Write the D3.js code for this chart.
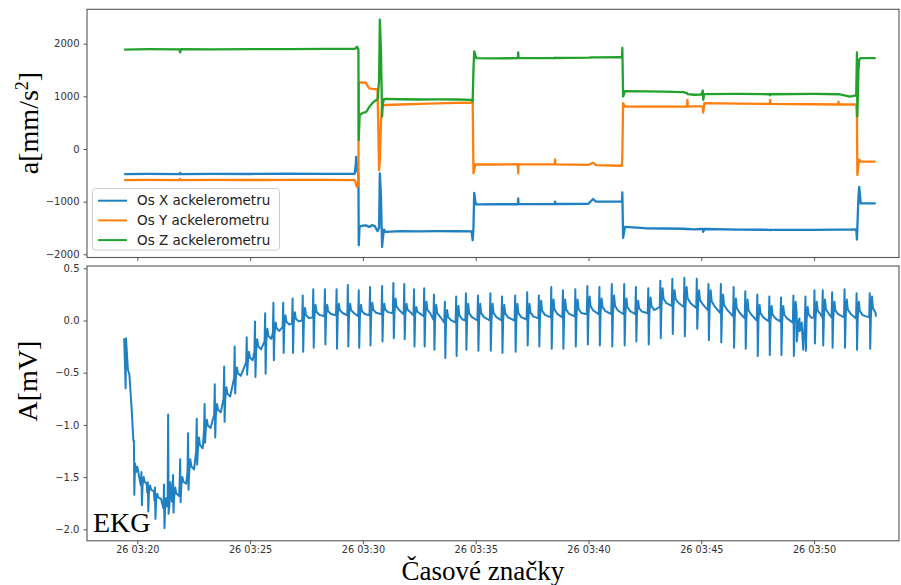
<!DOCTYPE html>
<html><head><meta charset="utf-8">
<script src="https://cdn.jsdelivr.net/npm/d3@7"></script>
<style>
html,body{margin:0;padding:0;background:#fff;}
svg{display:block;}
</style>
</head><body>
<svg id="chart" width="901" height="585"></svg>
<script>
// ---------------- DATA ----------------
// time is given in seconds after 26 03:20:00
const xTickLabelsFormat = "%d %H:%M";
const seriesNames = ["Os X ackelerometru", "Os Y ackelerometru", "Os Z ackelerometru"];
const topTicks = [2000, 1000, 0, -1000, -2000];
const bottomTicks = [0.5, 0.0, -0.5, -1.0, -1.5, -2.0];

const accSec = [-35,30,112,114,116,200,300,400,500,578,581,582,585,588,589,591,592,600,608,612,617,625,632,639,643,645,648,651,653,656,660,700,750,800,850,889,892,894,896,899,901,950,1012,1013,1014,1110,1111,1112,1200,1212,1220,1283,1289,1290,1292,1297,1350,1400,1452,1462,1463,1464,1480,1500,1504,1505,1508,1600,1682,1683,1684,1800,1864,1865,1866,1895,1912,1914,1915,1918,1920,1924,1964];
const accX = [-478,-474,-478,-455,-476,-472,-475,-470,-472,-470,-300,-150,-420,-470,-1829,-1480,-1470,-1455,-1450,-1465,-1480,-1445,-1470,-1560,-1500,-463,-900,-1860,-1700,-1530,-1575,-1560,-1565,-1560,-1562,-1565,-1733,-1500,-832,-1000,-1053,-1050,-1050,-940,-1048,-1048,-1000,-1045,-1040,-950,-1000,-1000,-1000,-825,-1689,-1480,-1505,-1510,-1515,-1520,-1520,-1520,-1525,-1520,-1520,-1575,-1520,-1530,-1535,-1543,-1535,-1535,-1530,-1530,-1530,-1530,-1525,-1720,-1500,-900,-718,-1034,-1034];
const accY = [-592,-588,-590,-570,-590,-587,-589,-586,-588,-592,-640,-690,-718,-650,1251,1263,1263,1263,1258,1200,1152,1140,1137,1137,-400,-200,500,800,819,830,835,845,855,865,875,882,880,-463,-400,-291,-291,-295,-290,-463,-292,-293,-200,-293,-300,-260,-305,-318,-318,-100,870,806,806,806,806,806,933,806,808,808,806,692,870,860,855,933,855,850,845,900,845,845,845,600,-495,-300,-203,-241,-241];
const accZ = [1888,1895,1893,1835,1896,1893,1898,1895,1900,1902,1910,1930,1940,1890,171,600,648,686,700,740,800,870,914,940,1300,2457,1886,615,850,946,950,945,940,942,940,933,900,1500,1853,1790,1727,1720,1725,1835,1725,1728,1735,1728,1735,1740,1740,1742,1742,1918,996,1100,1095,1090,1079,1060,1045,1040,1030,1035,1110,933,1042,1045,1040,1020,1040,1045,1040,1040,1040,996,1020,1835,615,1500,1700,1727,1727];

// EKG: irregular start segment
const ekgStartSec = [-35,-31,-30,-25,-21,-15,-10.5,-9,-8,-6,-3,0,5];
const ekgStartVal = [-0.17,-0.65,-0.17,-0.47,-0.52,-0.85,-1.15,-1.15,-1.67,-1.37,-1.45,-1.40,-1.50];
// EKG beats: time, baseline, R peak, S trough, second peak
const ekgBeatSec = [11,28,47,71,82,95,114,135,158,179,206,231,259,291,313,340,362,388,413,440,468,499,530,560,589,619,651,681,710,736,763,789,818,848,874,906,939,970,1005,1037,1068,1101,1132,1165,1197,1229,1262,1295,1326,1359,1391,1423,1455,1488,1519,1552,1586,1617,1649,1681,1712,1745,1777,1801,1823,1848,1881,1913,1948];
const ekgBase = [-1.58,-1.65,-1.72,-1.80,-1.78,-1.70,-1.58,-1.45,-1.25,-1.05,-0.90,-0.75,-0.55,-0.40,-0.30,-0.20,-0.12,-0.06,-0.03,0.00,0.03,0.04,0.05,0.05,0.04,0.05,0.06,0.07,0.06,0.05,0.04,0.01,-0.02,-0.02,0.00,0.00,0.00,0.00,0.00,0.01,0.02,0.03,0.03,0.04,0.06,0.06,0.06,0.06,0.06,0.07,0.13,0.14,0.13,0.12,0.10,0.07,0.04,0.02,0.00,-0.01,-0.01,-0.02,0.00,0.03,0.03,0.03,0.03,0.02,0.03];
const ekgR = [-1.45,-1.55,-1.60,-1.57,-0.90,-1.48,-1.33,-1.08,-0.94,-0.80,-0.61,-0.44,-0.25,-0.16,-0.01,0.07,0.17,0.17,0.21,0.24,0.30,0.30,0.30,0.34,0.29,0.32,0.33,0.36,0.35,0.30,0.31,0.25,0.18,0.23,0.26,0.24,0.26,0.23,0.24,0.27,0.24,0.32,0.29,0.30,0.33,0.32,0.35,0.35,0.32,0.31,0.38,0.40,0.41,0.40,0.35,0.35,0.32,0.28,0.25,0.23,0.22,0.24,0.23,0.29,0.29,0.27,0.30,0.26,0.26];
const ekgS = [-1.77,-1.83,-1.90,-1.99,-1.85,-1.84,-1.74,-1.62,-1.38,-1.17,-1.12,-0.97,-0.70,-0.52,-0.54,-0.51,-0.38,-0.31,-0.31,-0.30,-0.26,-0.23,-0.27,-0.25,-0.26,-0.24,-0.20,-0.17,-0.18,-0.25,-0.25,-0.28,-0.36,-0.34,-0.28,-0.29,-0.29,-0.31,-0.30,-0.24,-0.25,-0.27,-0.27,-0.25,-0.23,-0.24,-0.25,-0.24,-0.20,-0.23,-0.17,-0.13,-0.15,-0.08,-0.19,-0.21,-0.26,-0.27,-0.34,-0.33,-0.33,-0.34,-0.29,-0.22,-0.24,-0.26,-0.26,-0.28,-0.27];
const ekgT = [-1.50,-1.58,-1.66,-1.70,-1.55,-1.60,-1.50,-1.33,-1.12,-0.95,-0.80,-0.64,-0.45,-0.30,-0.18,-0.08,-0.02,0.05,0.08,0.12,0.15,0.15,0.16,0.16,0.15,0.17,0.16,0.21,0.16,0.13,0.18,0.15,0.10,0.14,0.16,0.16,0.16,0.15,0.16,0.16,0.19,0.20,0.20,0.20,0.23,0.21,0.24,0.21,0.19,0.22,0.31,0.29,0.32,0.29,0.29,0.25,0.21,0.20,0.15,0.14,0.14,0.18,0.13,0.18,0.20,0.18,0.20,0.18,0.23];
// EKG: irregular segment near 03:49 and end point
const ekgExtraSec = [1754,1759,1762,1767,1771,1964];
const ekgExtraVal = [-0.20,0.00,-0.10,-0.02,-0.28,0.035];

// ---------------- LAYOUT ----------------
const svg = d3.select("#chart");
const L = 87, R = 899;
const topP = {y0: 9.3, y1: 257.5};
const botP = {y0: 266, y1: 540.8};
const baseT = Date.UTC(2021, 0, 26, 3, 20, 0);
const toDate = s => new Date(baseT + s * 1000);

const x = d3.scaleUtc().domain([toDate(-133.8), toDate(2025.8)]).range([L, R]);
const yTop = d3.scaleLinear().domain([-2061, 2653]).range([topP.y1, topP.y0]);
const yBot = d3.scaleLinear().domain([-2.110, 0.522]).range([botP.y1, botP.y0]);

const colX = "#1f80c2", colY = "#ff7f0e", colZ = "#22a22c";
const tickFont = "DejaVu Sans, sans-serif";
const xTicks = d3.utcMinute.every(5).range(toDate(-133.8), toDate(2025.8));

// ---------- axes ----------
function styleAxis(g, fs) {
  g.selectAll(".domain").remove();
  g.selectAll("line").attr("stroke", "#444").attr("stroke-width", 0.9);
  g.selectAll("text").attr("fill", "#333").attr("font-family", tickFont).attr("font-size", (fs || 10) + "px");
}
svg.append("g").attr("transform", `translate(${L},0)`)
  .call(d3.axisLeft(yTop).tickValues(topTicks).tickSize(3.5).tickPadding(4).tickFormat(d => d3.format("d")(d).replace("-", "\u2212")))
  .call(g => styleAxis(g));
svg.append("g").attr("transform", `translate(0,${topP.y1})`)
  .call(d3.axisBottom(x).tickValues(xTicks).tickSize(3.5).tickFormat(""))
  .call(g => styleAxis(g));
svg.append("g").attr("transform", `translate(${L},0)`)
  .call(d3.axisLeft(yBot).tickValues(bottomTicks).tickSize(3.5).tickPadding(4).tickFormat(d => d3.format(".1f")(d).replace("-", "\u2212")))
  .call(g => styleAxis(g));
svg.append("g").attr("transform", `translate(0,${botP.y1})`)
  .call(d3.axisBottom(x).tickValues(xTicks).tickSize(3.5).tickPadding(2).tickFormat(d3.utcFormat(xTickLabelsFormat)))
  .call(g => styleAxis(g, 9.7));

// ---------- top lines ----------
const accData = accSec.map((s, i) => ({t: toDate(s), X: accX[i], Y: accY[i], Z: accZ[i]}));
[["X", colX], ["Y", colY], ["Z", colZ]].forEach(([k, c]) => {
  svg.append("path").datum(accData)
    .attr("fill", "none").attr("stroke", c).attr("stroke-width", 2.3)
    .attr("stroke-linejoin", "round")
    .attr("d", d3.line().x(d => x(d.t)).y(d => yTop(d[k])));
});

// ---------- EKG line ----------
let ekgPts = ekgStartSec.map((s, i) => [s, ekgStartVal[i]]);
ekgBeatSec.forEach((t, i) => {
  const b = ekgBase[i], T = ekgT[i];
  const next = i < ekgBeatSec.length - 1 ? ekgBeatSec[i + 1] : t + 30;
  ekgPts.push([t - 1.5, b], [t, ekgR[i]], [t + 1.2, ekgS[i]], [t + 3, b], [t + 6, T],
              [t + 8.5, b + 0.45 * (T - b)], [Math.min(t + 16, next - 3), b + 0.2 * (T - b)]);
});
ekgExtraSec.forEach((s, i) => ekgPts.push([s, ekgExtraVal[i]]));
ekgPts.sort((a, b) => a[0] - b[0]);
svg.append("path").datum(ekgPts)
  .attr("fill", "none").attr("stroke", colX).attr("stroke-width", 2)
  .attr("stroke-linejoin", "round")
  .attr("d", d3.line().x(d => x(toDate(d[0]))).y(d => yBot(d[1])));

// ---------- frames ----------
[topP, botP].forEach(p => {
  svg.append("rect").attr("x", L).attr("y", p.y0).attr("width", R - L).attr("height", p.y1 - p.y0)
    .attr("fill", "none").attr("stroke", "#555").attr("stroke-width", 1.1);
});

// ---------- legend ----------
const lg = svg.append("g");
lg.append("rect").attr("x", 92.5).attr("y", 188.5).attr("width", 187).attr("height", 61.5).attr("rx", 3)
  .attr("fill", "#fff").attr("fill-opacity", 0.85).attr("stroke", "#ccc");
[colX, colY, colZ].forEach((c, i) => {
  const yy = 200.7 + i * 19.7;
  lg.append("line").attr("x1", 98).attr("x2", 127).attr("y1", yy).attr("y2", yy).attr("stroke", c).attr("stroke-width", 2);
  lg.append("text").attr("x", 137).attr("y", yy).attr("dy", "0.35em").attr("font-family", tickFont)
    .attr("font-size", "13.5px").attr("fill", "#222").text(seriesNames[i]);
});

// ---------- labels ----------
const serif = "Liberation Serif, Times New Roman, serif";
const tl = svg.append("text").attr("transform", "translate(38,123) rotate(-90)")
  .attr("text-anchor", "middle").attr("font-family", serif).attr("font-size", "28px").attr("fill", "#000");
tl.append("tspan").text("a[mm/s");
tl.append("tspan").attr("font-size", "18px").attr("dy", "-10").text("2");
tl.append("tspan").attr("dy", "10").text("]");
svg.append("text").attr("transform", "translate(37,381) rotate(-90)")
  .attr("text-anchor", "middle").attr("font-family", serif).attr("font-size", "28px").attr("fill", "#000")
  .text("A[mV]");
svg.append("text").attr("x", 401.5).attr("y", 580).attr("font-family", serif).attr("font-size", "27px")
  .attr("fill", "#000").text("Časové značky");
svg.append("text").attr("x", 93).attr("y", 531.5).attr("font-family", serif).attr("font-size", "28px")
  .attr("fill", "#000").text("EKG");
</script>
</body></html>
